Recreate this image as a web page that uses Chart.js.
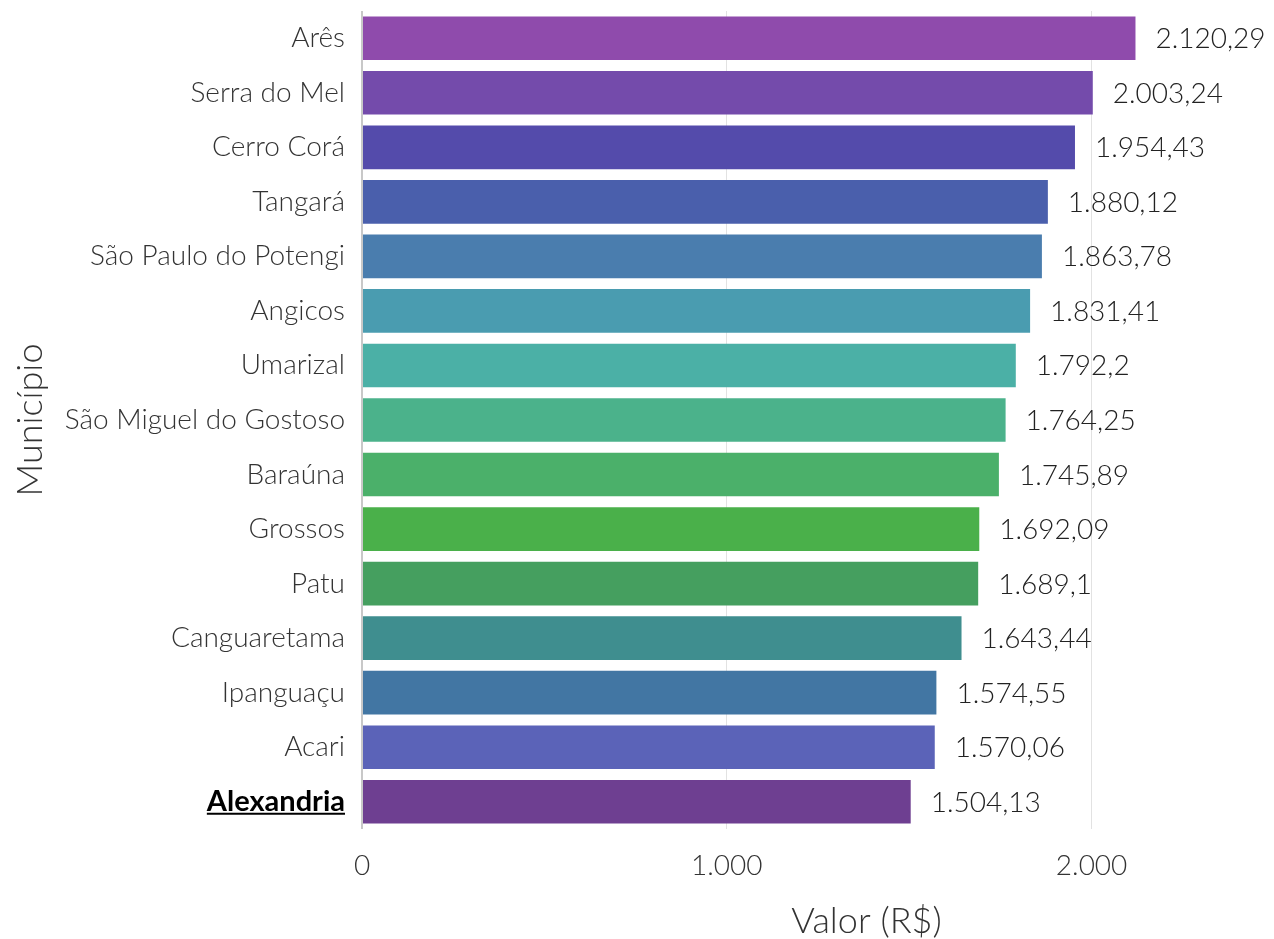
<!DOCTYPE html>
<html lang="pt-BR">
<head>
<meta charset="utf-8">
<title>Valor por município</title>
<script src="https://cdn.jsdelivr.net/npm/chart.js@4.4.1/dist/chart.umd.min.js"></script>
<style>
  html, body { margin: 0; padding: 0; background: #fff; }
  #wrap { width: 1274px; height: 939px; position: relative; }
</style>
</head>
<body>
<div id="wrap"><canvas id="grafico"></canvas></div>
<script>
// --- Dados ---
const municipios = [
  "Arês", "Serra do Mel", "Cerro Corá", "Tangará", "São Paulo do Potengi",
  "Angicos", "Umarizal", "São Miguel do Gostoso", "Baraúna", "Grossos",
  "Patu", "Canguaretama", "Ipanguaçu", "Acari", "Alexandria"
];
const valores = [
  2120.29, 2003.24, 1954.43, 1880.12, 1863.78,
  1831.41, 1792.2, 1764.25, 1745.89, 1692.09,
  1689.1, 1643.44, 1574.55, 1570.06, 1504.13
];
const cores = [
  "#8f4bac", "#744bab", "#544bab", "#4a5fac", "#4a7dae",
  "#4a9cb0", "#4bb0a6", "#4bb28b", "#4bb06a", "#4ab04a",
  "#459f5f", "#3f8e8f", "#4276a3", "#5b63b8", "#6e3f91"
];
const destaque = "Alexandria";
const marcasX = [0, 1000, 2000];
const tituloX = "Valor (R$)";

const FONTE = "Lato, 'Noto Sans', sans-serif";

// formato pt-BR sem depender do locale do navegador
function formatBR(v) {
  const partes = String(v).split(".");
  const inteiro = partes[0].replace(/\B(?=(\d{3})+(?!\d))/g, ".");
  return partes[1] ? inteiro + "," + partes[1] : inteiro;
}

// rótulos de valor, título do eixo x e sublinhado do destaque
const pluginRotulos = {
  id: "rotulos",
  afterDatasetsDraw(chart) {
    const ctx = chart.ctx;
    const meta = chart.getDatasetMeta(0);
    ctx.save();
    ctx.font = "300 28px " + FONTE;
    ctx.fillStyle = "#222";
    ctx.textAlign = "left";
    ctx.textBaseline = "middle";
    meta.data.forEach((bar, i) => {
      ctx.fillText(formatBR(valores[i]), bar.x + 20, bar.y + 1);
    });
    ctx.restore();
  },
  afterDraw(chart) {
    const ctx = chart.ctx;
    const x = chart.scales.x;
    const y = chart.scales.y;

    // título do eixo x (no original fica deslocado para a direita)
    ctx.save();
    ctx.font = "300 36px " + FONTE;
    ctx.fillStyle = "#333";
    ctx.textAlign = "center";
    ctx.textBaseline = "middle";
    ctx.fillText(tituloX, x.getPixelForValue(1383), x.bottom - 18);
    ctx.restore();

    const idx = municipios.indexOf(destaque);
    if (idx < 0) return;
    ctx.save();
    ctx.font = "bold 29px " + FONTE;
    const w = ctx.measureText(destaque).width;
    const xDir = y.right - y.options.ticks.padding;
    const py = y.getPixelForTick(idx) + 12;
    ctx.strokeStyle = "#000";
    ctx.lineWidth = 2;
    ctx.beginPath();
    ctx.moveTo(xDir - w, py);
    ctx.lineTo(xDir, py);
    ctx.stroke();
    ctx.restore();
  }
};

const ctx = document.getElementById("grafico").getContext("2d");
new Chart(ctx, {
  type: "bar",
  data: {
    labels: municipios,
    datasets: [{
      data: valores,
      backgroundColor: cores,
      borderWidth: 0,
      categoryPercentage: 1,
      barPercentage: 0.8
    }]
  },
  options: {
    indexAxis: "y",
    responsive: true,
    maintainAspectRatio: false,
    animation: false,
    layout: { padding: { top: 11, right: 0, left: 0, bottom: 0 } },
    plugins: {
      legend: { display: false },
      tooltip: { enabled: false }
    },
    scales: {
      x: {
        min: 0,
        max: 2500,
        afterBuildTicks(scale) {
          scale.ticks = marcasX.map((v) => ({ value: v }));
        },
        afterFit(scale) { scale.height = 110; },
        border: { display: false },
        grid: {
          drawTicks: false,
          color: (c) => (c.tick && c.tick.value === 0 ? "#c8c8c8" : "#e2e2e2"),
          lineWidth: (c) => (c.tick && c.tick.value === 0 ? 2 : 1)
        },
        ticks: {
          padding: 20,
          color: "#333",
          font: { family: FONTE, size: 28, weight: 300 },
          callback: (v) => formatBR(v)
        },
        title: { display: false }
      },
      y: {
        afterFit(scale) {
          scale.width = 362;
          scale.paddingTop = 0;
          scale.paddingBottom = 0;
        },
        border: { display: false },
        grid: { display: false, drawTicks: false },
        ticks: {
          padding: 17,
          color: (c) => (municipios[c.index] === destaque ? "#000" : "#333"),
          font: (c) => (municipios[c.index] === destaque
            ? { family: FONTE, size: 29, weight: "bold" }
            : { family: FONTE, size: 28, weight: 300 })
        },
        title: {
          display: true,
          text: "Município",
          color: "#333",
          font: { family: FONTE, size: 36, weight: 300, lineHeight: 1 },
          padding: { top: 12, bottom: 0 }
        }
      }
    }
  },
  plugins: [pluginRotulos]
});
</script>
</body>
</html>
